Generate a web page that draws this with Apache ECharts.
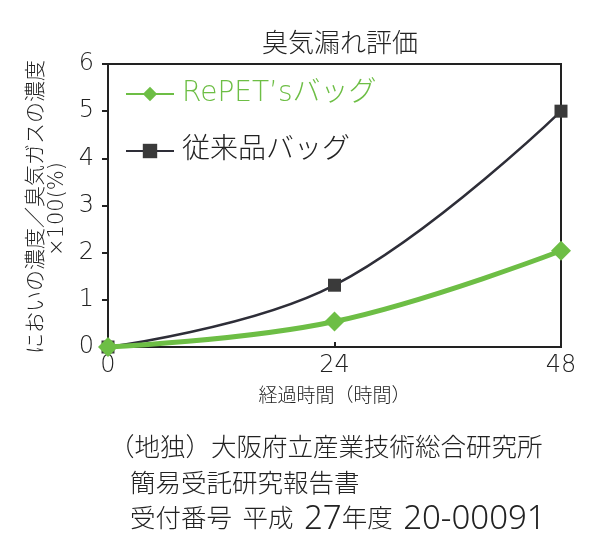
<!DOCTYPE html>
<html><head><meta charset="utf-8">
<script src="https://cdn.jsdelivr.net/npm/echarts@6/dist/echarts.min.js"></script>
<style>html,body{margin:0;padding:0;background:#fff}#c{width:600px;height:547px}</style>
</head><body><div id="c"></div>
<script>
const hours = [0, 24, 48];
const repetValues = [0, 0.54, 2.04];
const conventionalValues = [0, 1.31, 5.0];
const seriesNames = ["RePET’sバッグ", "従来品バッグ"];
const xTicks = [0, 24, 48];
const titleText = "臭気漏れ評価";
const yName1 = "においの濃度／臭気ガスの濃度";
const yName2 = "×100(%)";
const xName = "経過時間（時間）";
const notes = ["（地独）大阪府立産業技術総合研究所", "簡易受託研究報告書", "受付番号 平成 27年度 20-00091"];

const CJK = '"Noto Sans CJK JP", "Noto Sans", sans-serif';
const LAT = '"DejaVu Sans", "Noto Sans CJK JP", sans-serif';
const DIG = '"Noto Sans", "DejaVu Sans", sans-serif';
const toRich = s => s.replace(/(\d[\d-]*)/g, '{d|$1}').replace(/ /g, '{s| }');
const chart = echarts.init(document.getElementById('c'));
const pair = (xs, ys) => xs.map((x, i) => [x, ys[i]]);
const noteStyle = (txt, x, y) => ({
  type: 'text', x: x, y: y,
  style: { text: toRich(txt), fontFamily: LAT, fontSize: 25.5, fontWeight: 300, fill: '#222',
    verticalAlign: 'middle',
    rich: {
      d: { fontFamily: DIG, fontSize: 33, fontWeight: 300, fill: '#222', verticalAlign: 'middle' },
      s: { fontFamily: LAT, fontSize: 33, fill: '#222', verticalAlign: 'middle' }
    } }
});
chart.setOption({
  backgroundColor: '#fff',
  animation: false,
  title: { text: titleText, left: 335, top: 24, textAlign: 'center',
    textStyle: { fontFamily: CJK, fontSize: 26, fontWeight: 300, color: '#222' } },
  grid: { left: 108, right: 39, top: 64, bottom: 200, show: true, borderColor: '#222', borderWidth: 2 },
  legend: {
    orient: 'vertical', left: 120, top: 75, itemGap: 29, itemWidth: 48, itemHeight: 18,
    data: seriesNames.map((n, i) => ({ name: n, textStyle: { color: i === 0 ? '#6DBE45' : '#222' } })),
    textStyle: { fontFamily: LAT, fontSize: 28, fontWeight: 300, padding: [0, 0, 0, 3] }
  },
  xAxis: {
    type: 'value', min: 0, max: 48, interval: 24,
    axisLine: { lineStyle: { color: '#222', width: 2 } },
    axisTick: { show: true, inside: true, length: 5, lineStyle: { color: '#222', width: 2 } },
    splitLine: { show: false },
    axisLabel: { fontFamily: LAT, fontSize: 24, fontWeight: 200, color: '#222', margin: 7,
      customValues: xTicks },
    name: xName, nameLocation: 'middle', nameGap: 38,
    nameTextStyle: { fontFamily: CJK, fontSize: 19, fontWeight: 300, color: '#222' }
  },
  yAxis: {
    type: 'value', min: 0, max: 6, interval: 1,
    axisLine: { lineStyle: { color: '#222', width: 2 } },
    axisTick: { show: true, length: 6, lineStyle: { color: '#222', width: 2 } },
    splitLine: { show: false },
    axisLabel: { fontFamily: LAT, fontSize: 24, fontWeight: 200, color: '#222', margin: 14 }
  },
  graphic: [
    { type: 'text', x: 34, y: 207, rotation: Math.PI / 2,
      style: { text: yName1, fontFamily: CJK, fontSize: 21, fontWeight: 300, fill: '#222', align: 'center', verticalAlign: 'middle' } },
    { type: 'text', x: 58, y: 209, rotation: Math.PI / 2,
      style: { text: yName2, fontFamily: LAT, fontSize: 21, fontWeight: 300, fill: '#222', align: 'center', verticalAlign: 'middle' } },
    noteStyle(notes[0], 109, 449),
    noteStyle(notes[1], 130, 485),
    noteStyle(notes[2], 130, 520)
  ],
  series: [
    { name: seriesNames[1], type: 'line', data: pair(hours, conventionalValues), smooth: 0.4,
      symbol: 'rect', symbolSize: 13, z: 2,
      lineStyle: { color: '#2e2e38', width: 2.5 }, itemStyle: { color: '#3a3a3a' } },
    { name: seriesNames[0], type: 'line', data: pair(hours, repetValues), smooth: 0.4,
      symbol: 'diamond', symbolSize: 20, z: 3,
      lineStyle: { color: '#6DBE45', width: 5 }, itemStyle: { color: '#6DBE45' } }
  ]
});
</script></body></html>
